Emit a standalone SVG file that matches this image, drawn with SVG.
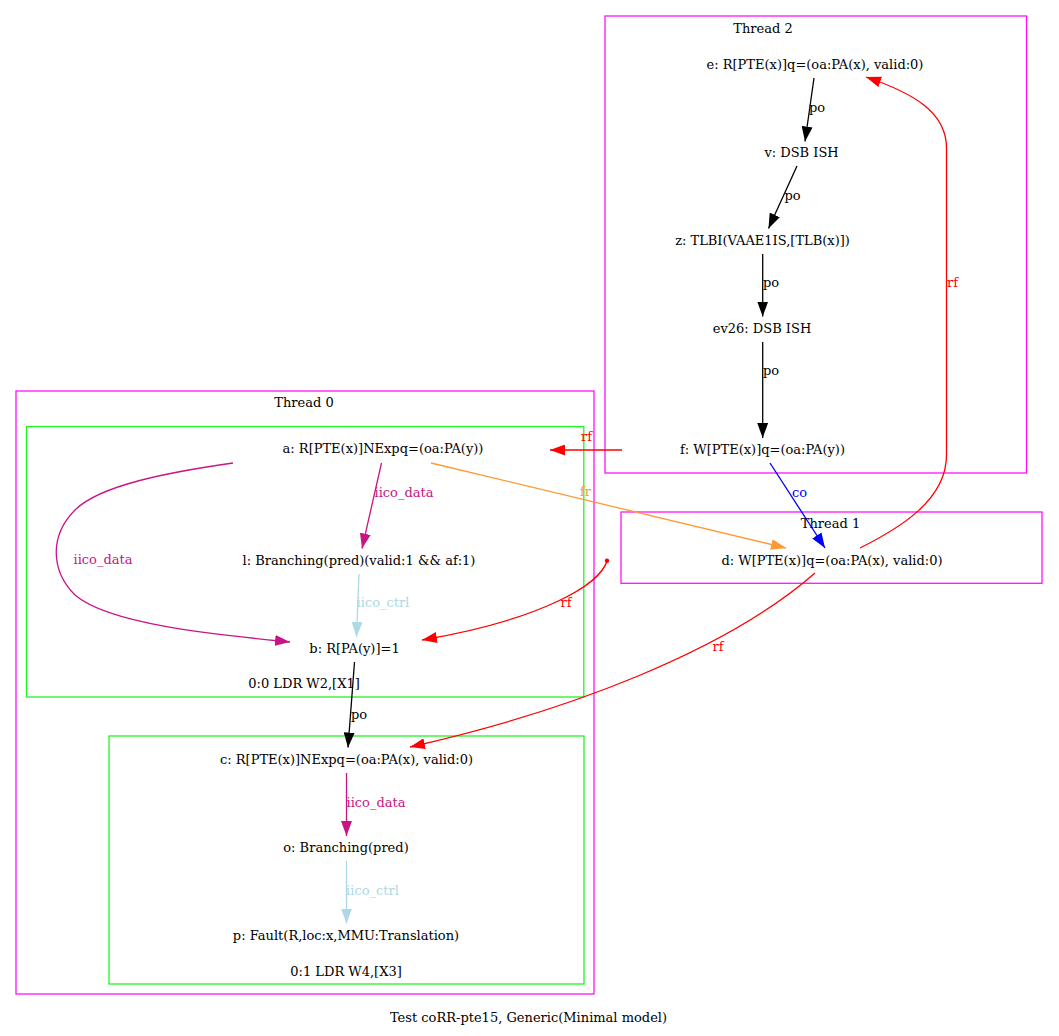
<svg xmlns="http://www.w3.org/2000/svg" width="1059" height="1036" viewBox="0 0 1059 1036">
<style>
text{font-family:"DejaVu Serif","Liberation Serif",serif;font-size:13px;text-anchor:middle;fill:#000}
.thread{fill:none;stroke:#ff11ff;stroke-width:1.3}
.instr{fill:none;stroke:#22f522;stroke-width:1.3}
.e{fill:none;stroke-width:1.3}
.po{stroke:#000}
.rf{stroke:#ff0000}
.co{stroke:#0000ff}
.fr{stroke:#ff9933}
.idata{stroke:#c71585}
.ictrl{stroke:#add8e6}
text.lrf{fill:#ff0000}
text.lco{fill:#0000ff}
text.lfr{fill:#ff9933}
text.lidata{fill:#c71585}
text.lictrl{fill:#add8e6}
</style>
<defs>
<marker id="m-black" viewBox="0 0 15 11" refX="15" refY="5.5" markerWidth="15" markerHeight="11" markerUnits="userSpaceOnUse" orient="auto"><path d="M0,0L15,5.5L0,11z" fill="#000"/></marker>
<marker id="m-red" viewBox="0 0 15 11" refX="15" refY="5.5" markerWidth="15" markerHeight="11" markerUnits="userSpaceOnUse" orient="auto"><path d="M0,0L15,5.5L0,11z" fill="#ff0000"/></marker>
<marker id="m-blue" viewBox="0 0 15 11" refX="15" refY="5.5" markerWidth="15" markerHeight="11" markerUnits="userSpaceOnUse" orient="auto"><path d="M0,0L15,5.5L0,11z" fill="#0000ff"/></marker>
<marker id="m-orange" viewBox="0 0 15 11" refX="15" refY="5.5" markerWidth="15" markerHeight="11" markerUnits="userSpaceOnUse" orient="auto"><path d="M0,0L15,5.5L0,11z" fill="#ff9933"/></marker>
<marker id="m-violet" viewBox="0 0 15 11" refX="15" refY="5.5" markerWidth="15" markerHeight="11" markerUnits="userSpaceOnUse" orient="auto"><path d="M0,0L15,5.5L0,11z" fill="#c71585"/></marker>
<marker id="m-lblue" viewBox="0 0 15 11" refX="15" refY="5.5" markerWidth="15" markerHeight="11" markerUnits="userSpaceOnUse" orient="auto"><path d="M0,0L15,5.5L0,11z" fill="#add8e6"/></marker>
</defs>
<rect width="1059" height="1036" fill="#fff"/>
<g id="clusters">
<g id="thread2"><rect class="thread" x="605" y="16" width="421.5" height="457"/><text x="763" y="32.5">Thread 2</text></g>
<g id="thread1"><rect class="thread" x="621" y="512" width="421" height="71.3"/><text x="830.5" y="528">Thread 1</text></g>
<g id="thread0"><rect class="thread" x="16" y="391" width="578" height="603"/><text x="304" y="407">Thread 0</text></g>
<g id="instr00"><rect class="instr" x="26.5" y="426.5" width="557.3" height="270.5"/><text x="304" y="688">0:0 LDR W2,[X1]</text></g>
<g id="instr01"><rect class="instr" x="109" y="736" width="475" height="248"/><text x="346" y="975.5">0:1 LDR W4,[X3]</text></g>
</g>
<g id="edges">
<g id="e-e-v"><path class="e po" d="M814,78L805,141.5" marker-end="url(#m-black)"/><text x="817" y="111.5">po</text></g>
<g id="e-v-z"><path class="e po" d="M797,166L768.5,228.5" marker-end="url(#m-black)"/><text x="792.5" y="199.5">po</text></g>
<g id="e-z-ev26"><path class="e po" d="M762.7,254L762.7,316.5" marker-end="url(#m-black)"/><text x="771" y="287">po</text></g>
<g id="e-ev26-f"><path class="e po" d="M762.7,342L762.7,438" marker-end="url(#m-black)"/><text x="771" y="375">po</text></g>
<g id="e-f-a"><path class="e rf" d="M622,450L550,450" marker-end="url(#m-red)"/><text class="lrf" x="586.5" y="441">rf</text></g>
<g id="e-f-d"><path class="e co" d="M770,463L825,548" marker-end="url(#m-blue)"/><text class="lco" x="799.5" y="496.5">co</text></g>
<g id="e-d-e"><path class="e rf" d="M860,548C900,528 946.5,500 946.5,455L946.5,148C946.5,112 913,93 866,77" marker-end="url(#m-red)"/><text class="lrf" x="952.5" y="287">rf</text></g>
<g id="e-a-d"><path class="e fr" d="M431,463L786,548" marker-end="url(#m-orange)"/><text class="lfr" x="585.5" y="496">fr</text></g>
<g id="e-a-l"><path class="e idata" d="M381.5,463L362,548.5" marker-end="url(#m-violet)"/><text class="lidata" x="404" y="496.5">iico_data</text></g>
<g id="e-a-b"><path class="e idata" d="M233,463C170,472 100,485 75,510C50,535 50,570 75,595C110,625 220,635 290,642" marker-end="url(#m-violet)"/><text class="lidata" x="103" y="564">iico_data</text></g>
<g id="e-l-b"><path class="e ictrl" d="M359,574L356.5,637" marker-end="url(#m-lblue)"/><text class="lictrl" x="383" y="607">iico_ctrl</text></g>
<g id="e-init-b"><circle cx="607" cy="560.7" r="2.2" fill="#ff0000"/><path class="e rf" d="M607,561C600,585 540,620 422,640" marker-end="url(#m-red)"/><text class="lrf" x="566" y="607">rf</text></g>
<g id="e-b-c"><path class="e po" d="M354.5,662L348,747.5" marker-end="url(#m-black)"/><text x="359" y="718.5">po</text></g>
<g id="e-d-c"><path class="e rf" d="M815,573C725,652 565,712 410,747" marker-end="url(#m-red)"/><text class="lrf" x="718" y="651">rf</text></g>
<g id="e-c-o"><path class="e idata" d="M346.5,773L346.5,836" marker-end="url(#m-violet)"/><text class="lidata" x="376" y="806.5">iico_data</text></g>
<g id="e-o-p"><path class="e ictrl" d="M346.5,861L346.5,923.5" marker-end="url(#m-lblue)"/><text class="lictrl" x="372.5" y="894.5">iico_ctrl</text></g>
</g>
<g id="nodes">
<g id="n-e"><text x="815" y="68.5">e: R[PTE(x)]q=(oa:PA(x), valid:0)</text></g>
<g id="n-v"><text x="801.5" y="156.5">v: DSB ISH</text></g>
<g id="n-z"><text x="762.5" y="244.5">z: TLBI(VAAE1IS,[TLB(x)])</text></g>
<g id="n-ev26"><text x="762" y="332.5">ev26: DSB ISH</text></g>
<g id="n-f"><text x="762.5" y="453.5">f: W[PTE(x)]q=(oa:PA(y))</text></g>
<g id="n-d"><text x="832" y="564.5">d: W[PTE(x)]q=(oa:PA(x), valid:0)</text></g>
<g id="n-a"><text x="383" y="453">a: R[PTE(x)]NExpq=(oa:PA(y))</text></g>
<g id="n-l"><text x="359" y="564.5">l: Branching(pred)(valid:1 &amp;&amp; af:1)</text></g>
<g id="n-b"><text x="354.5" y="652.5">b: R[PA(y)]=1</text></g>
<g id="n-c"><text x="346.5" y="763.5">c: R[PTE(x)]NExpq=(oa:PA(x), valid:0)</text></g>
<g id="n-o"><text x="346" y="852">o: Branching(pred)</text></g>
<g id="n-p"><text x="346" y="939.5">p: Fault(R,loc:x,MMU:Translation)</text></g>
</g>
<g id="caption"><text x="528.5" y="1022">Test coRR-pte15, Generic(Minimal model)</text></g>
</svg>
